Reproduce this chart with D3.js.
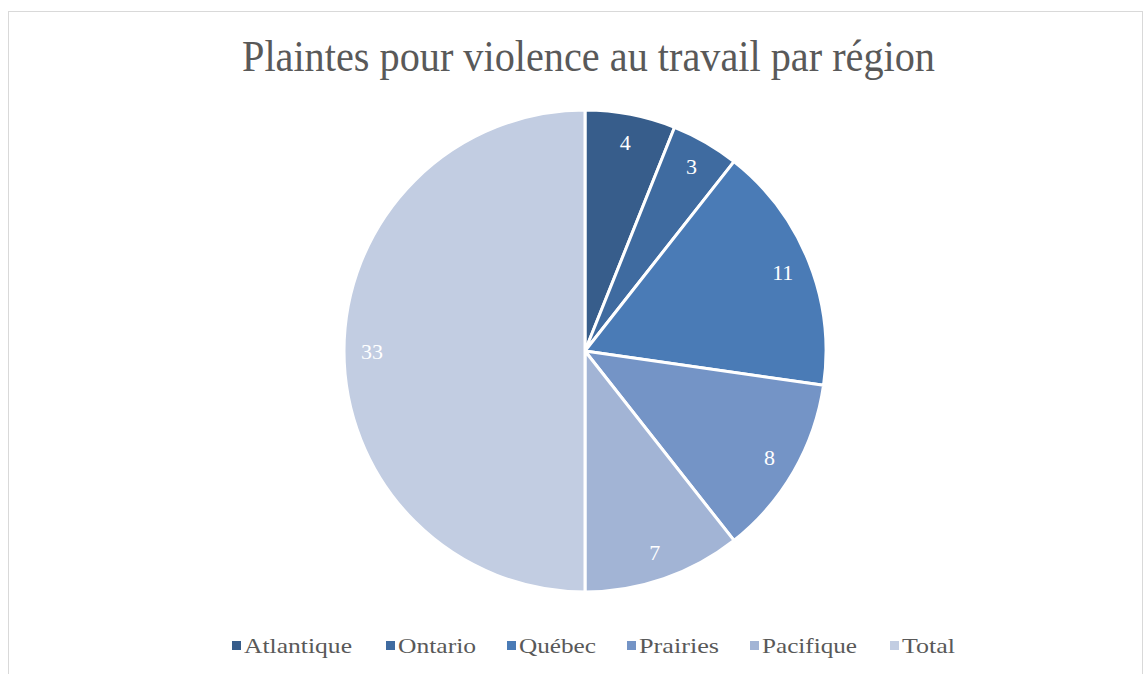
<!DOCTYPE html>
<html>
<head>
<meta charset="utf-8">
<script src="https://cdn.jsdelivr.net/npm/d3@7"></script>
<style>
	body { margin: 0; background: #fff; }
	svg text { font-family: "Liberation Serif", "DejaVu Serif", serif; }
</style>
</head>
<body>
<div id="chart"></div>
<script>
var categories = ["Atlantique", "Ontario", "Québec", "Prairies", "Pacifique", "Total"];
var values = [4, 3, 11, 8, 7, 33];
var colors = ["#375d8b", "#3f6ba0", "#4a7bb6", "#7494c6", "#a2b4d5", "#c2cde2"];
var title = "Plaintes pour violence au travail par région";
// legend text widths
var legendWidths = [108, 78, 77, 80, 95, 53];
var legendX = [232, 386, 507, 627, 750, 890];

(function () {
	var width = 1146, height = 674;
	var cx = 585, cy = 351, radius = 241;

	var svg = d3.select('#chart').append('svg')
		.attr('width', width)
		.attr('height', height);

	// chart frame
	svg.append('rect')
		.attr('x', 8.5).attr('y', 11.5)
		.attr('width', 1134).attr('height', 680)
		.attr('fill', 'none')
		.attr('stroke', '#d9d9d9')
		.attr('stroke-width', 1);

	svg.append('text')
		.attr('x', 242).attr('y', 71)
		.attr('textLength', 693)
		.attr('lengthAdjust', 'spacingAndGlyphs')
		.attr('font-size', 45)
		.attr('fill', '#595959')
		.text(title);

	var pie = d3.pie().sort(null).value(function (d) { return d; });
	var arcs = pie(values);
	var arc = d3.arc().innerRadius(0).outerRadius(radius);
	var labelArc = d3.arc().innerRadius(213).outerRadius(213);

	var g = svg.append('g').attr('transform', 'translate(' + cx + ',' + cy + ')');

	g.selectAll('path').data(arcs)
		.enter().append('path')
		.attr('d', arc)
		.attr('fill', function (d, i) { return colors[i]; })
		.attr('stroke', '#fff')
		.attr('stroke-width', 3)
		.attr('stroke-linejoin', 'round');

	g.selectAll('text.val').data(arcs)
		.enter().append('text')
		.attr('class', 'val')
		.attr('transform', function (d) { return 'translate(' + labelArc.centroid(d) + ')'; })
		.attr('text-anchor', 'middle')
		.attr('dy', '0.35em')
		.attr('font-size', 22)
		.attr('fill', '#fff')
		.text(function (d) { return d.data; });

	var legend = svg.append('g').selectAll('g').data(categories)
		.enter().append('g')
		.attr('transform', function (d, i) { return 'translate(' + legendX[i] + ',646)'; });

	legend.append('rect')
		.attr('x', 0).attr('y', -5)
		.attr('width', 9).attr('height', 9)
		.attr('fill', function (d, i) { return colors[i]; });

	legend.append('text')
		.attr('x', 12).attr('y', 7)
		.attr('font-size', 22)
		.attr('fill', '#595959')
		.attr('textLength', function (d, i) { return legendWidths[i]; })
		.attr('lengthAdjust', 'spacingAndGlyphs')
		.text(function (d) { return d; });
})();
</script>
</body>
</html>
